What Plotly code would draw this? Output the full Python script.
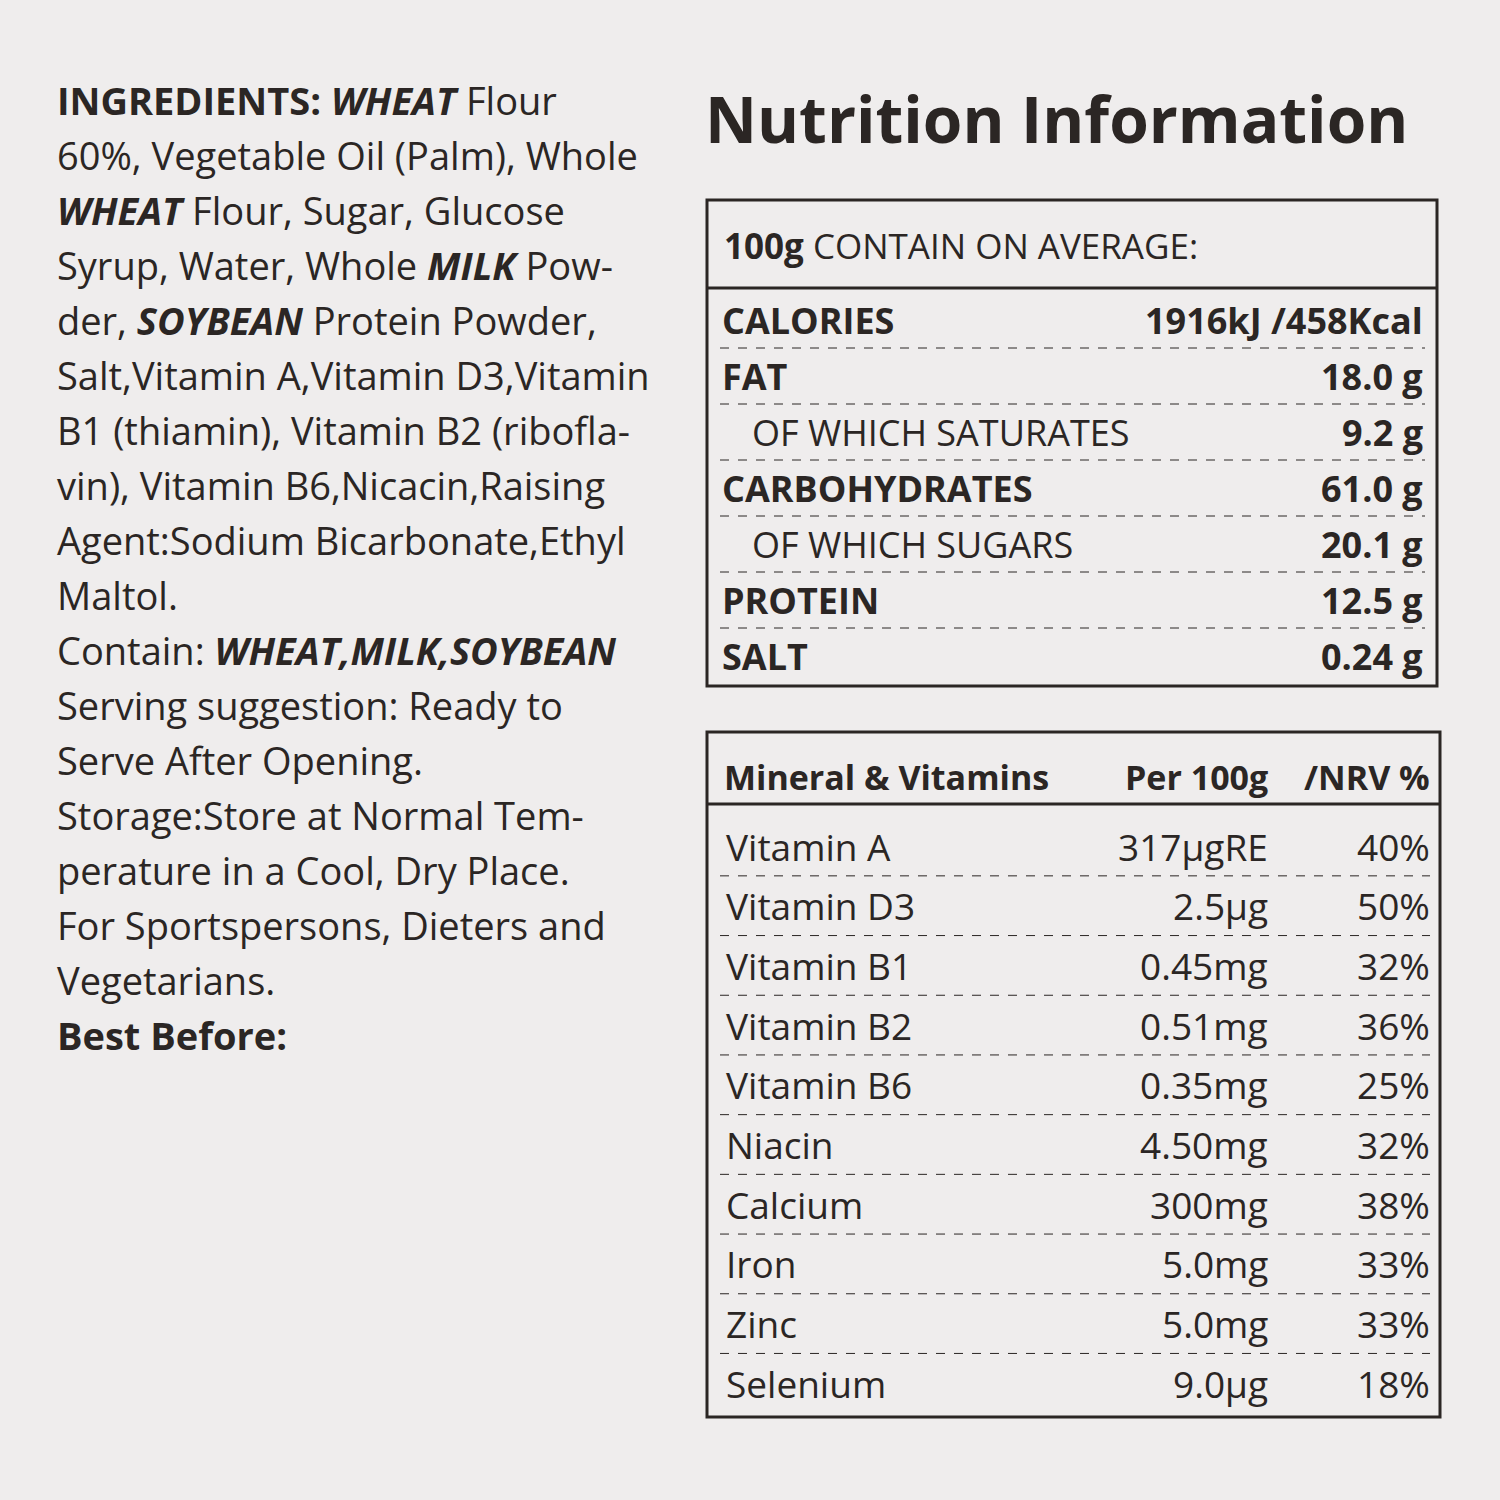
import plotly.graph_objects as go

# left column text, one entry per printed line
ingredient_lines = [
    "<b>INGREDIENTS:</b> <b><i>WHEAT</i></b> Flour",
    "60%, Vegetable Oil (Palm), Whole",
    "<b><i>WHEAT</i></b> Flour, Sugar, Glucose",
    "Syrup, Water, Whole <b><i>MILK</i></b> Pow-",
    "der, <b><i>SOYBEAN</i></b> Protein Powder,",
    "Salt,Vitamin A,Vitamin D3,Vitamin",
    "B1 (thiamin), Vitamin B2 (ribofla-",
    "vin), Vitamin B6,Nicacin,Raising",
    "Agent:Sodium Bicarbonate,Ethyl",
    "Maltol.",
    "Contain: <b><i>WHEAT,MILK,SOYBEAN</i></b>",
    "Serving suggestion: Ready to",
    "Serve After Opening.",
    "Storage:Store at Normal Tem-",
    "perature in a Cool, Dry Place.",
    "For Sportspersons, Dieters and",
    "Vegetarians.",
    "<b>Best Before:</b>",
]

nutrients = ["CALORIES", "FAT", "OF WHICH SATURATES", "CARBOHYDRATES",
             "OF WHICH SUGARS", "PROTEIN", "SALT"]
nutrient_values = ["1916kJ /458Kcal", "18.0 g", "9.2 g", "61.0 g",
                   "20.1 g", "12.5 g", "0.24 g"]

vitamins = ["Vitamin A", "Vitamin D3", "Vitamin B1", "Vitamin B2", "Vitamin B6",
            "Niacin", "Calcium", "Iron", "Zinc", "Selenium"]
vitamin_amounts = ["317μgRE", "2.5μg", "0.45mg", "0.51mg", "0.35mg",
                   "4.50mg", "300mg", "5.0mg", "5.0mg", "9.0μg"]
vitamin_nrv = ["40%", "50%", "32%", "36%", "25%", "32%", "38%", "33%", "33%", "18%"]

INK = "#2b2624"
FONT = "Open Sans"

fig = go.Figure()
ann = []
shapes = []

def text(x, y, s, size, anchor="left"):
    ann.append(dict(x=x, y=y, text=s, showarrow=False, xanchor=anchor, yanchor="middle",
                    font=dict(family=FONT, size=size, color=INK)))

def hline(x0, x1, y, dash="solid", width=1):
    shapes.append(dict(type="line", x0=x0, x1=x1, y0=y, y1=y,
                       line=dict(color=INK, width=width, dash=dash)))

# left column
for i, line in enumerate(ingredient_lines):
    text(55, 100 + i * 55, line, 38)

# title
text(703, 118, "<b>Nutrition Information</b>", 64)

# table 1
shapes.append(dict(type="rect", x0=707, x1=1437, y0=200, y1=686,
                   line=dict(color=INK, width=3)))
text(722, 245, "<b>100g</b> CONTAIN ON AVERAGE:", 35)
hline(707, 1437, 288, width=3)
row_h = 56
for i, (name, val) in enumerate(zip(nutrients, nutrient_values)):
    y = 320 + i * row_h
    if name.startswith("OF WHICH"):
        text(750, y, name, 36)
    else:
        text(720, y, "<b>" + name + "</b>", 36)
    text(1425, y, "<b>" + val + "</b>", 36, anchor="right")
    if i < len(nutrients) - 1:
        hline(720, 1425, y + row_h / 2, dash="dash")

# table 2
shapes.append(dict(type="rect", x0=707, x1=1440, y0=732, y1=1417,
                   line=dict(color=INK, width=3)))
text(722, 777, "<b>Mineral & Vitamins</b>", 34)
text(1270, 777, "<b>Per 100g</b>", 34, anchor="right")
text(1432, 777, "<b>/NRV %</b>", 34, anchor="right")
hline(707, 1440, 804, width=3)
row_h2 = 59.7
for i, (name, amt, nrv) in enumerate(zip(vitamins, vitamin_amounts, vitamin_nrv)):
    y = 846 + i * row_h2
    text(724, y, name, 37)
    text(1270, y, amt, 37, anchor="right")
    text(1432, y, nrv, 37, anchor="right")
    if i < len(vitamins) - 1:
        hline(720, 1430, y + row_h2 / 2, dash="dash")

fig.update_layout(
    width=1500, height=1500, margin=dict(l=0, r=0, t=0, b=0),
    paper_bgcolor="#efeded", plot_bgcolor="#efeded",
    xaxis=dict(range=[0, 1500], visible=False, fixedrange=True),
    yaxis=dict(range=[1500, 0], visible=False, fixedrange=True),
    annotations=ann, shapes=shapes, showlegend=False,
)
fig.write_html("out.html", config={"displayModeBar": False},
               post_script="document.body.style.margin='0';document.body.style.background='#efeded';")
